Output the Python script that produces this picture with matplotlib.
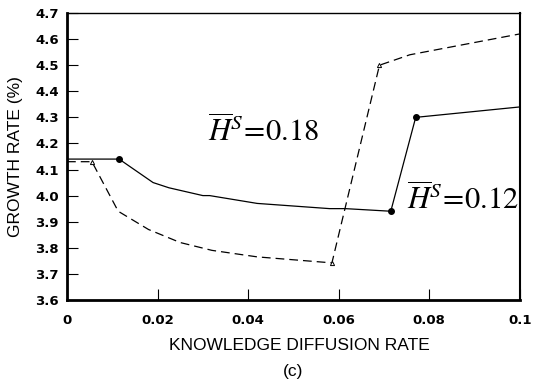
import matplotlib.pyplot as plt
import numpy as np

# H^S = 0.12 (solid line)
rate_a = [0.0, 0.0115, 0.019, 0.0225, 0.030, 0.0315, 0.042, 0.058, 0.0615, 0.0715, 0.077, 0.100]
growth_a = [4.14, 4.14, 4.05, 4.03, 4.00, 4.00, 3.97, 3.95, 3.95, 3.94, 4.30, 4.34]
marks_a = [1, 9, 10]

# H^S = 0.18 (dashed line)
rate_b = [0.0, 0.0055, 0.0113, 0.018, 0.025, 0.032, 0.042, 0.0585, 0.069, 0.0757, 0.100]
growth_b = [4.13, 4.13, 3.94, 3.87, 3.82, 3.79, 3.765, 3.742, 4.50, 4.54, 4.62]
marks_b = [1, 7, 8]

xticks = [0, 0.02, 0.04, 0.06, 0.08, 0.1]
xticklabels = ['0', '0.02', '0.04', '0.06', '0.08', '0.1']
yticks = np.round(np.arange(3.6, 4.71, 0.1), 1)

plt.rcParams['mathtext.fontset'] = 'stix'

fig = plt.figure(figsize=(5.34, 3.84), dpi=100)
ax = fig.add_axes([0.1255, 0.219, 0.848, 0.747])

ax.plot(rate_a, growth_a, color='black', lw=0.9)
ax.plot([rate_a[i] for i in marks_a], [growth_a[i] for i in marks_a], 'o',
        color='black', ms=4)
ax.plot(rate_b, growth_b, color='black', lw=0.9, ls=(0, (7, 4)))
ax.plot([rate_b[i] for i in marks_b], [growth_b[i] for i in marks_b], '^',
        mfc='white', mec='black', ms=3, mew=0.7)

ax.set_xlim(0, 0.1)
ax.set_ylim(3.6, 4.7)
ax.set_xticks(xticks)
ax.set_xticklabels(xticklabels)
ax.set_yticks(yticks)
ax.set_yticklabels(['%.1f' % v for v in yticks])
ax.tick_params(direction='in', length=8, width=0.8, labelsize=9.5)
ax.tick_params(axis='x', pad=10)
ax.tick_params(axis='y', pad=6)
for lab in ax.get_xticklabels() + ax.get_yticklabels():
    lab.set_fontweight('bold')
    lab.set_family('DejaVu Sans')

ax.spines['left'].set_linewidth(2)
ax.spines['bottom'].set_linewidth(2)
ax.spines['right'].set_linewidth(1.5)
ax.spines['top'].set_linewidth(1.0)

ax.set_xlabel('KNOWLEDGE DIFFUSION RATE', family='Liberation Sans', fontsize=12.5)
ax.xaxis.label.set_va('center')
ax.xaxis.set_label_coords(0.514, -0.16)
ax.set_ylabel('GROWTH RATE (%)', family='Liberation Sans', fontsize=12.5)
ax.yaxis.label.set_va('center')
ax.yaxis.set_label_coords(-0.113, 0.5)
ax.text(0.5, -0.248, '(c)', transform=ax.transAxes, family='Liberation Sans',
        fontsize=12.5, ha='center', va='center')

ax.text(0.0311, 4.205, r'$\overline{H}^{S}\!=\!0.18$', fontsize=22,
        va='baseline', ha='left')
ax.text(0.0751, 3.945, r'$\overline{H}^{S}\!=\!0.12$', fontsize=22,
        va='baseline', ha='left')

plt.savefig('out.png', dpi=100)
